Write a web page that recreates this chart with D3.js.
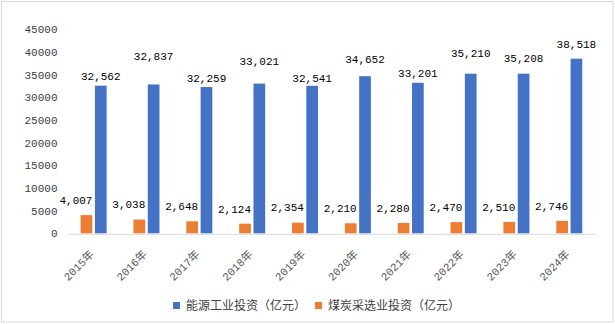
<!DOCTYPE html>
<html>
<head>
<meta charset="utf-8">
<script src="https://cdn.jsdelivr.net/npm/d3@7"></script>
<style>
  html, body { margin: 0; padding: 0; background: #fff; }
  svg { display: block; }
</style>
</head>
<body>
<svg id="chart" width="615" height="324"></svg>
<script>
// Years on the category axis
const years = ["2015年", "2016年", "2017年", "2018年", "2019年", "2020年", "2021年", "2022年", "2023年", "2024年"];
// Energy-industry investment (100 million yuan)
const energyInvest = [32562, 32837, 32259, 33021, 32541, 34652, 33201, 35210, 35208, 38518];
// Coal mining & washing investment (100 million yuan)
const coalInvest = [4007, 3038, 2648, 2124, 2354, 2210, 2280, 2470, 2510, 2746];
// Value-axis ticks
const yTicks = [0, 5000, 10000, 15000, 20000, 25000, 30000, 35000, 40000, 45000];
// Series names for the legend
const seriesNames = ["能源工业投资（亿元）", "煤炭采选业投资（亿元）"];

// How far (px) each energy label sits above its bar
const energyLabelLift = [10, 28, 9, 22, 8, 17, 10, 21, 16, 15];

const colors = ["#4472C4", "#ED7D31"];
const numFont = "'Liberation Mono', 'DejaVu Sans Mono', 'Noto Sans CJK SC', monospace";
const cjkFont = "'Noto Sans CJK SC', 'DejaVu Sans', sans-serif";

const svg = d3.select("#chart");

// outer frame
svg.append("rect")
  .attr("x", 1.5).attr("y", 1.5)
  .attr("width", 611.5).attr("height", 320.5)
  .attr("fill", "#fff")
  .attr("stroke", "#D9D9D9").attr("stroke-width", 1);

const plot = { left: 67.2, right: 595.7, top: 29.3, bottom: 233.3 };

const x = d3.scaleBand().domain(years).range([plot.left, plot.right]).padding(0);
const y = d3.scaleLinear().domain([0, 45000]).range([plot.bottom, plot.top]);

const barW = 11.7;
const half = 7.15; // offset of each bar centre from the category centre

// value axis labels (no line, no gridlines)
const yAxis = d3.axisLeft(y).tickValues(yTicks).tickSize(0).tickPadding(0)
  .tickFormat(d3.format("d"));
const yg = svg.append("g").attr("transform", `translate(57.5,0)`).call(yAxis);
yg.select(".domain").remove();
yg.selectAll("text")
  .attr("font-family", numFont).attr("font-size", 11)
  .attr("fill", "#404040");

// category axis line
const xAxis = d3.axisBottom(x).tickSize(0).tickFormat("");
const xg = svg.append("g").attr("transform", `translate(0,${plot.bottom + 0.5})`).call(xAxis);
xg.select(".domain").attr("stroke", "#D9D9D9").attr("stroke-width", 1);
xg.selectAll(".tick text").remove();

// rotated year labels
svg.append("g").selectAll("text").data(years).join("text")
  .attr("transform", d => `translate(${x(d) + x.bandwidth() / 2 + 1},255) rotate(-45)`)
  .attr("text-anchor", "end")
  .attr("font-family", numFont).attr("font-size", 11)
  .attr("fill", "#595959")
  .text(d => d);

// coal bars (left in each group)
svg.append("g").selectAll("rect").data(coalInvest).join("rect")
  .attr("x", (d, i) => x(years[i]) + x.bandwidth() / 2 - half - barW / 2)
  .attr("y", d => y(d))
  .attr("width", barW)
  .attr("height", d => y(0) - y(d))
  .attr("fill", colors[1]);

// energy bars (right in each group)
svg.append("g").selectAll("rect").data(energyInvest).join("rect")
  .attr("x", (d, i) => x(years[i]) + x.bandwidth() / 2 + half - barW / 2)
  .attr("y", d => y(d))
  .attr("width", barW)
  .attr("height", d => y(0) - y(d))
  .attr("fill", colors[0]);

const fmt = d3.format(",");

// energy value labels
svg.append("g").selectAll("text").data(energyInvest).join("text")
  .attr("x", (d, i) => x(years[i]) + x.bandwidth() / 2 + half)
  .attr("y", (d, i) => y(d) - energyLabelLift[i])
  .attr("dy", "0.35em")
  .attr("text-anchor", "middle")
  .attr("font-family", numFont).attr("font-size", 11)
  .attr("fill", "#000")
  .text(d => fmt(d));

// coal value labels
svg.append("g").selectAll("text").data(coalInvest).join("text")
  .attr("x", (d, i) => x(years[i]) + x.bandwidth() / 2 - half - 10.5)
  .attr("y", d => y(d) - 15)
  .attr("dy", "0.35em")
  .attr("text-anchor", "middle")
  .attr("font-family", numFont).attr("font-size", 11)
  .attr("fill", "#000")
  .text(d => fmt(d));

// legend
const legend = svg.append("g").attr("transform", "translate(173,305.5)");
let lx = 0;
seriesNames.forEach((name, i) => {
  legend.append("rect")
    .attr("x", lx).attr("y", -3.5)
    .attr("width", 7).attr("height", 7)
    .attr("fill", colors[i]);
  const t = legend.append("text")
    .attr("x", lx + 13).attr("y", 0)
    .attr("dy", "0.35em")
    .attr("font-family", cjkFont).attr("font-size", 12)
    .attr("fill", "#404040")
    .text(name);
  lx += 13 + t.node().getComputedTextLength() + 9;
});
</script>
</body>
</html>
